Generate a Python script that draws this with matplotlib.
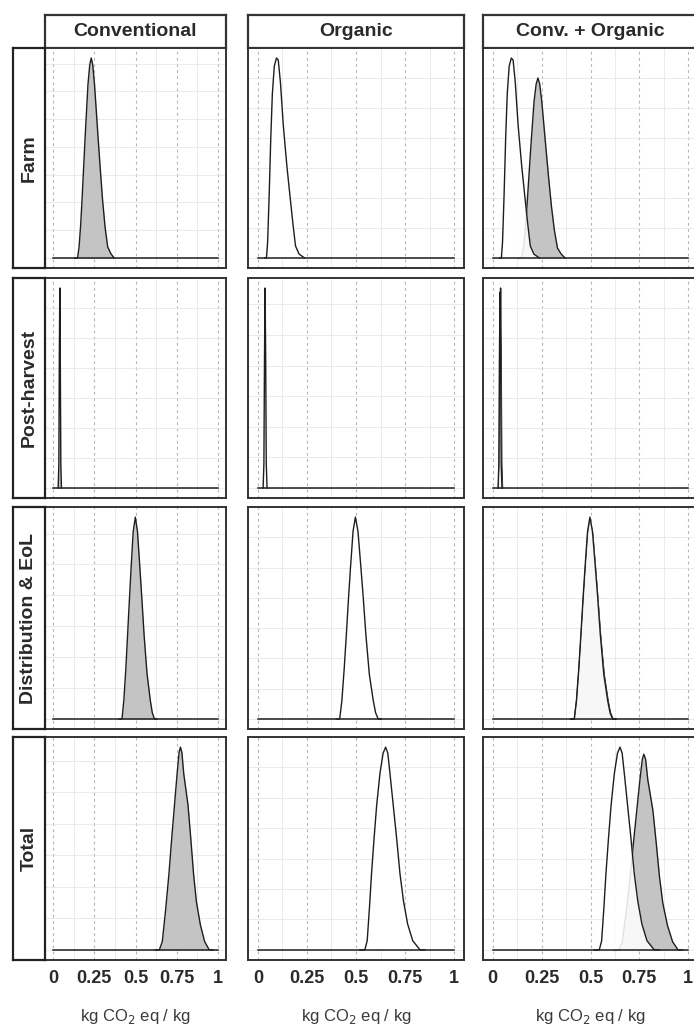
# -*- coding: utf-8 -*-
import numpy as np
import matplotlib.pyplot as plt
from matplotlib.ticker import MaxNLocator, AutoMinorLocator

plt.rcParams['font.family'] = ['Liberation Sans', 'DejaVu Sans']

W, H = 694, 1030

columns = ['Conventional', 'Organic', 'Conv. + Organic']
rows = ['Farm', 'Post-harvest', 'Distribution & EoL', 'Total']
x_ticks = [0, 0.25, 0.5, 0.75, 1]
x_tick_labels = ['0', '0.25', '0.5', '0.75', '1']
x_label = 'kg CO$_2$ eq / kg'

# density curves (arbitrary density units, free y per panel)
farm_conv_x = [0.13, 0.148, 0.157, 0.166, 0.175, 0.185, 0.195, 0.211, 0.222, 0.231,
               0.24, 0.251, 0.271, 0.285, 0.30, 0.315, 0.331, 0.35, 0.37]
farm_conv_y = [0, 0, 0.05, 0.14, 0.26, 0.41, 0.56, 0.78, 0.87, 0.90,
               0.87, 0.78, 0.56, 0.41, 0.26, 0.14, 0.05, 0.02, 0]
farm_org_x = [0.035, 0.044, 0.05, 0.058, 0.066, 0.074, 0.084, 0.095, 0.104, 0.115,
              0.13, 0.148, 0.167, 0.18, 0.192, 0.21, 0.238]
farm_org_y = [0, 0, 0.08, 0.32, 0.60, 0.82, 0.96, 1.0, 0.99, 0.88,
              0.66, 0.46, 0.28, 0.16, 0.06, 0.02, 0]

post_conv_x = [0.030, 0.034, 0.037, 0.040, 0.043, 0.046, 0.050]
post_conv_y = [0, 0.12, 0.65, 1.0, 0.65, 0.12, 0]
post_org_x = [0.027, 0.031, 0.034, 0.037, 0.040, 0.043, 0.047]
post_org_y = [0, 0.12, 0.64, 0.98, 0.64, 0.12, 0]

dist_conv_x = [0.40, 0.418, 0.429, 0.441, 0.452, 0.463, 0.473, 0.486, 0.499, 0.512,
               0.527, 0.539, 0.552, 0.57, 0.59, 0.602, 0.615, 0.63]
dist_conv_y = [0, 0, 0.09, 0.24, 0.41, 0.58, 0.73, 0.91, 0.98, 0.91,
               0.73, 0.58, 0.41, 0.22, 0.09, 0.03, 0, 0]
dist_org_x = [0.40, 0.417, 0.428, 0.44, 0.451, 0.462, 0.472, 0.485, 0.497, 0.51,
              0.525, 0.537, 0.55, 0.568, 0.588, 0.60, 0.613, 0.63]
dist_org_y = [0, 0, 0.09, 0.25, 0.42, 0.60, 0.75, 0.93, 1.0, 0.93,
              0.75, 0.60, 0.42, 0.22, 0.09, 0.03, 0, 0]

total_conv_x = [0.62, 0.645, 0.663, 0.683, 0.703, 0.72, 0.737, 0.753, 0.765, 0.773,
                0.782, 0.793, 0.819, 0.836, 0.853, 0.87, 0.894, 0.92, 0.948, 0.97]
total_conv_y = [0, 0, 0.04, 0.19, 0.36, 0.53, 0.69, 0.84, 0.94, 0.965,
                0.94, 0.84, 0.69, 0.53, 0.36, 0.23, 0.12, 0.04, 0, 0]
total_org_x = [0.52, 0.545, 0.557, 0.568, 0.579, 0.592, 0.605, 0.622, 0.638, 0.651,
               0.662, 0.673, 0.69, 0.707, 0.724, 0.742, 0.763, 0.789, 0.826, 0.85]
total_org_y = [0, 0, 0.045, 0.2, 0.375, 0.55, 0.71, 0.87, 0.97, 1.0,
               0.97, 0.87, 0.71, 0.55, 0.375, 0.24, 0.127, 0.045, 0, 0]

curves = {
    'Farm': (farm_conv_x, farm_conv_y, farm_org_x, farm_org_y),
    'Post-harvest': (post_conv_x, post_conv_y, post_org_x, post_org_y),
    'Distribution & EoL': (dist_conv_x, dist_conv_y, dist_org_x, dist_org_y),
    'Total': (total_conv_x, total_conv_y, total_org_x, total_org_y),
}

# layout in pixels
col_l = [45, 248, 483]
col_r = [226, 464, 698]
row_t = [48, 278, 507, 737]
row_b = [268, 498, 729, 960]

line_c = '#1e1e1e'
conv_fill = '#c4c4c4'
txt_c = '#2a2a2a'

fig = plt.figure(figsize=(W / 100, H / 100), dpi=100)


def px_axes(l, t, r, b):
    return fig.add_axes([l / W, 1 - b / H, (r - l) / W, (b - t) / H])


def draw(ax, x, y, fill, alpha, z):
    # fill then outline; later curves sit on top of earlier ones
    ax.fill_between(x, 0, y, color=fill, alpha=alpha, lw=0, zorder=z)
    ax.plot(x, y, color=line_c, lw=1.0, zorder=z + 0.5)


for j, col in enumerate(columns):
    # column strip
    sa = px_axes(col_l[j], 15, col_r[j], 48)
    sa.set_xticks([]); sa.set_yticks([])
    for s in sa.spines.values():
        s.set_linewidth(1.6); s.set_color('#333333')
    sa.text(0.5, 0.5, col, ha='center', va='center', fontsize=14,
            fontweight='bold', color=txt_c, transform=sa.transAxes)

    for i, row in enumerate(rows):
        ax = px_axes(col_l[j], row_t[i], col_r[j], row_b[i])
        cx, cy, ox, oy = curves[row]
        if j == 0:
            draw(ax, cx, cy, conv_fill, 1.0, 3)
            top = max(cy)
        elif j == 1:
            draw(ax, ox, oy, 'white', 1.0, 3)
            top = max(oy)
        else:
            draw(ax, cx, cy, conv_fill, 1.0, 3)
            draw(ax, ox, oy, 'white', 0.87, 4)
            top = max(max(cy), max(oy))
        ax.plot([0, 1], [0, 0], color=line_c, lw=1.1, zorder=6)

        ax.set_xlim(-0.05, 1.05)
        ax.set_ylim(-0.05 * top, 1.05 * top)
        ax.set_xticks(x_ticks)
        ax.xaxis.set_minor_locator(AutoMinorLocator(2))
        ax.yaxis.set_major_locator(MaxNLocator(4))
        ax.yaxis.set_minor_locator(AutoMinorLocator(2))
        ax.grid(True, axis='x', which='major', color='#b4b4b4', lw=0.8,
                ls=(0, (2.5, 3)), zorder=0)
        ax.grid(True, axis='x', which='minor', color='#e8e8e8', lw=0.6, zorder=0)
        ax.grid(True, axis='y', which='both', color='#e6e6e6', lw=0.6, zorder=0)
        ax.tick_params(which='both', length=0)
        ax.set_yticklabels([])
        if i == len(rows) - 1:
            ax.set_xticklabels(x_tick_labels, fontsize=13, fontweight='bold',
                               color=txt_c)
            ax.tick_params(axis='x', pad=7)
        else:
            ax.set_xticklabels([])
        for s in ax.spines.values():
            s.set_linewidth(1.4); s.set_color('#333333')

        if j == 0:
            ra = px_axes(13, row_t[i], 45, row_b[i])
            ra.set_xticks([]); ra.set_yticks([])
            for s in ra.spines.values():
                s.set_linewidth(1.6); s.set_color('#222222')
            ra.text(0.5, 0.5, row, ha='center', va='center', rotation=90,
                    fontsize=14, fontweight='bold', color=txt_c,
                    transform=ra.transAxes)

    fig.text((col_l[j] + col_r[j]) / 2 / W, 1 - 1016 / H, x_label,
             ha='center', va='center', fontsize=12, color='#3a3a3a')

fig.savefig('out.png', dpi=100)
